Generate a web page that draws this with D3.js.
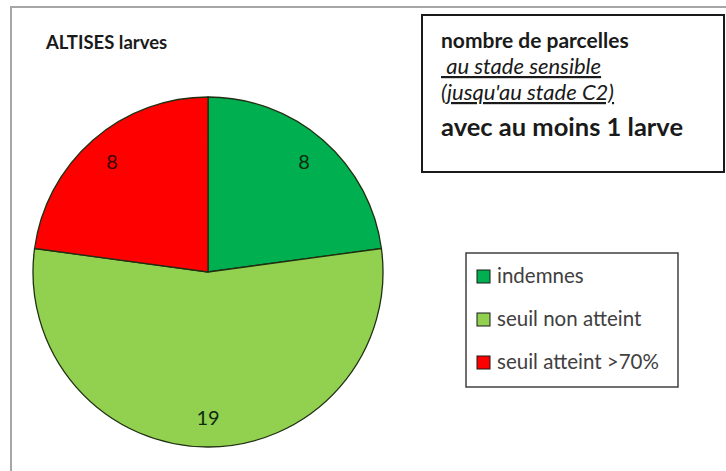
<!DOCTYPE html>
<html>
<head>
<meta charset="utf-8">
<script src="https://cdn.jsdelivr.net/npm/d3@7"></script>
<style>
  body { margin: 0; background: #fff; }
  svg { display: block; font-family: Lato, "Open Sans", sans-serif; }
</style>
</head>
<body>
<div id="chart"></div>
<script>
const categories = ["indemnes", "seuil non atteint", "seuil atteint >70%"];
const values = [8, 19, 8];
const colors = ["#00B050", "#92D050", "#FF0000"];
const title = "ALTISES larves";

const width = 726, height = 471;
const cx = 208, cy = 272, radius = 175;

const svg = d3.select("#chart").append("svg")
    .attr("width", width)
    .attr("height", height);

// outer chart frame (runs off the right and bottom)
svg.append("path")
    .attr("d", `M11,${height + 5} L11,7 L${width + 5},7`)
    .style("fill", "none")
    .style("stroke", "#a6a6a6")
    .style("stroke-width", 2);

svg.append("text")
    .attr("x", 46).attr("y", 49)
    .style("font-size", "18.5px")
    .style("font-weight", "bold")
    .style("fill", "#1a1a1a")
    .text(title);

const data = categories.map((c, i) => ({name: c, value: values[i], color: colors[i]}));

const pie = d3.pie().value(d => d.value).sort(null);
const arc = d3.arc().innerRadius(0).outerRadius(radius);
const labelArc = d3.arc().innerRadius(146).outerRadius(146);

const g = svg.append("g").attr("transform", `translate(${cx},${cy})`);

g.selectAll("path")
    .data(pie(data))
    .enter().append("path")
    .attr("d", arc)
    .style("fill", d => d.data.color)
    .style("stroke", "#1f2f12")
    .style("stroke-width", 1.3);

g.selectAll("text")
    .data(pie(data))
    .enter().append("text")
    .attr("transform", d => `translate(${labelArc.centroid(d)})`)
    .attr("dy", "0.35em")
    .style("text-anchor", "middle")
    .style("font-size", "20px")
    .style("fill", (d, i) => i === 2 ? "#3a0000" : "#0f2a0f")
    .text(d => d.data.value);

// note box
const note = svg.append("g");
note.append("rect")
    .attr("x", 422).attr("y", 15)
    .attr("width", 302).attr("height", 157)
    .style("fill", "#fff")
    .style("stroke", "#1a1a1a")
    .style("stroke-width", 2);

const noteLines = [
    {t: "nombre de parcelles", y: 48, size: 21, weight: "bold", style: "normal", u: false},
    {t: "\u00a0au stade sensible", y: 74, size: 22, weight: "normal", style: "italic", u: true},
    {t: "(jusqu'au stade C2)", y: 100, size: 22, weight: "normal", style: "italic", u: true},
    {t: "avec au moins 1 larve", y: 136, size: 25.5, weight: "bold", style: "normal", u: false}
];
note.selectAll("text")
    .data(noteLines)
    .enter().append("text")
    .attr("x", 441)
    .attr("y", d => d.y)
    .style("font-size", d => d.size + "px")
    .style("font-weight", d => d.weight)
    .style("font-style", d => d.style)
    .style("text-decoration", d => d.u ? "underline" : null)
    .style("fill", "#1a1a1a")
    .text(d => d.t);

// legend
const legend = svg.append("g");
legend.append("rect")
    .attr("x", 466).attr("y", 253)
    .attr("width", 212).attr("height", 134)
    .style("fill", "#fff")
    .style("stroke", "#404040")
    .style("stroke-width", 1.5);

const legendY = d3.scalePoint().domain(categories).range([276, 362]);

const item = legend.selectAll("g.item")
    .data(data)
    .enter().append("g")
    .attr("class", "item")
    .attr("transform", d => `translate(477,${legendY(d.name)})`);

item.append("rect")
    .attr("x", 0).attr("y", -6)
    .attr("width", 13).attr("height", 13)
    .style("fill", d => d.color)
    .style("stroke", "#1a1a1a")
    .style("stroke-width", 1);

item.append("text")
    .attr("x", 20)
    .attr("dy", "0.35em")
    .style("font-size", "20.5px")
    .style("fill", "#404040")
    .text(d => d.name);
</script>
</body>
</html>
